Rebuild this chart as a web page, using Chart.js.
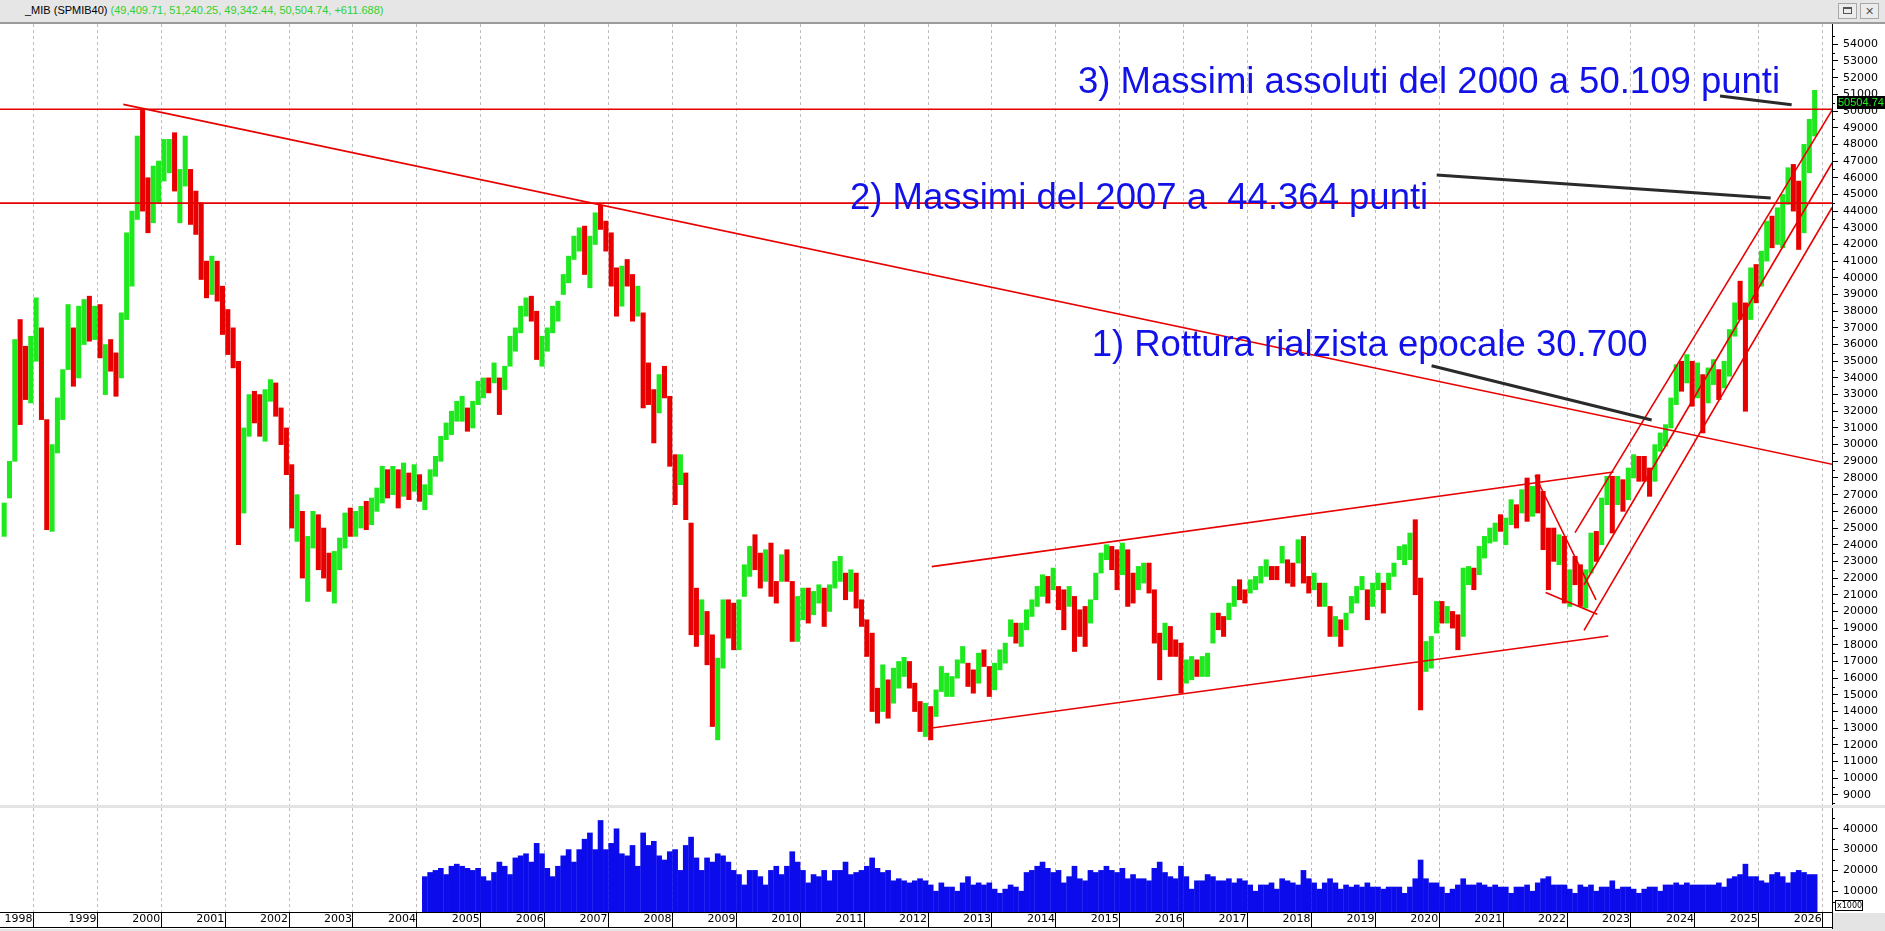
<!DOCTYPE html>
<html>
<head>
<meta charset="utf-8">
<script src="https://cdn.jsdelivr.net/npm/chart.js@4.4.1/dist/chart.umd.min.js"></script>
<style>
  body { margin: 0; width: 1885px; height: 931px; background: #e4e4e4; overflow: hidden; position: relative;
         font-family: "Liberation Sans", Arial, sans-serif; }
  #bar { position: absolute; left: 0; top: 0; width: 1885px; height: 22px; background: #e6e6e6; border-bottom: 2px solid #9c9c9c; }
  #title { position: absolute; left: 25px; top: 4px; font-size: 11px; color: #000; white-space: pre; }
  #title span { color: #2fd12f; }
  .btn { position: absolute; top: 3px; width: 17px; height: 14px; border: 1px solid #a8a8a8; background: #ececec; }
  .btn i { position: absolute; left: 4px; top: 3px; width: 7px; height: 4px; border: 1px solid #555; border-top-width: 2px; }
  .btn b { position: absolute; left: 0; top: 0; width: 17px; line-height: 14px; text-align: center; font-size: 11px; color: #555; font-weight: normal; }
  #priceWrap { position: absolute; left: 0; top: 24px; width: 1885px; height: 781px; background: #fff; }
  #volWrap { position: absolute; left: 0; top: 808px; width: 1885px; height: 121px; background: #fff; }
</style>
</head>
<body>
<div id="bar">
  <div id="title"></div>
  <div class="btn" style="left:1838px"><i></i></div>
  <div class="btn" style="left:1860px"><b>✕</b></div>
</div>
<div id="priceWrap"><canvas id="priceChart" width="1885" height="781"></canvas></div>
<div id="volWrap"><canvas id="volumeChart" width="1885" height="121"></canvas></div>
<script>
// --- DATA (monthly bars, Jan 1998 -> May 2026) ---
const firstYear = 1998;
const yearTicks = [1998, 1999, 2000, 2001, 2002, 2003, 2004, 2005, 2006, 2007, 2008, 2009, 2010, 2011,
  2012, 2013, 2014, 2015, 2016, 2017, 2018, 2019, 2020, 2021, 2022, 2023, 2024, 2025, 2026];
const priceTicks = [9000, 10000, 11000, 12000, 13000, 14000, 15000, 16000, 17000, 18000, 19000, 20000,
  21000, 22000, 23000, 24000, 25000, 26000, 27000, 28000, 29000, 30000, 31000, 32000, 33000, 34000,
  35000, 36000, 37000, 38000, 39000, 40000, 41000, 42000, 43000, 44000, 45000, 46000, 47000, 48000,
  49000, 50000, 51000, 52000, 53000, 54000];
const volumeTicks = [10000, 20000, 30000, 40000];
const volumeMinorTicks = [5000, 15000, 25000, 35000, 45000];

const lows = [
  24500, 26800, 29000, 31200, 32700, 32500, 35000, 31500, 24900, 24800, 29500, 31500, // 1998
  34500, 33500, 34000, 36000, 36200, 36300, 35200, 33000, 34400, 32900, 34000, 37500, // 1999
  39500, 43500, 44000, 42700, 43300, 44500, 45800, 46300, 45200, 43300, 45500, 43200, // 2000
  42600, 39900, 38800, 39000, 38600, 36600, 35400, 34600, 24000, 25900, 30500, 31300, // 2001
  30500, 30200, 32600, 31700, 30000, 28200, 25000, 24200, 22000, 20600, 23800, 22500, // 2002
  22000, 21200, 20500, 22500, 23800, 24500, 24500, 25000, 24900, 25200, 26000, 26500, // 2003
  26800, 27000, 26200, 26900, 26700, 27200, 26600, 26100, 27000, 28100, 29000, 30300, // 2004
  30600, 31400, 31400, 30800, 31000, 32400, 32800, 33100, 33700, 31800, 33300, 34700, // 2005
  35600, 36700, 37700, 37400, 35100, 34700, 35600, 36700, 37400, 39000, 39700, 41100, // 2006
  41600, 40200, 39400, 42000, 42900, 41600, 39500, 37700, 38300, 39500, 37400, 37700, // 2007
  32200, 32400, 30100, 31900, 32800, 28700, 26400, 27600, 25500, 18600, 17900, 18600, // 2008
  16800, 13100, 12300, 16600, 18400, 17700, 17700, 20900, 22100, 22500, 21400, 21800, // 2009
  20900, 20500, 21800, 21800, 18200, 18200, 19500, 19300, 19800, 20500, 19100, 20000, // 2010
  21400, 21800, 20700, 21200, 20200, 19100, 17300, 14000, 13300, 14000, 13600, 14500, // 2011
  15400, 16100, 15400, 14000, 12800, 12500, 12300, 13700, 15200, 14900, 14900, 16000, // 2012
  16900, 15500, 15100, 15700, 16700, 14900, 15300, 16500, 16900, 18500, 18100, 17900, // 2013
  18900, 19700, 20300, 20900, 20500, 21300, 20100, 18900, 20300, 17600, 18500, 17900, // 2014
  19300, 20700, 22300, 23100, 22500, 21300, 22200, 20300, 20500, 21300, 21700, 21100, // 2015
  18100, 15900, 17700, 17300, 17300, 15100, 15700, 15900, 16100, 16100, 16100, 18100, // 2016
  18900, 18500, 19500, 20300, 20700, 20500, 21100, 21300, 21700, 22100, 21900, 21900, // 2017
  22900, 21700, 21500, 22900, 21700, 21100, 21300, 20300, 20300, 18500, 18500, 17900, // 2018
  18900, 19900, 20500, 21300, 19500, 20300, 21300, 19900, 21300, 22100, 23100, 22800, // 2019
  23100, 21000, 14100, 16400, 16600, 18700, 19300, 19300, 19000, 17700, 18500, 21600, // 2020
  21300, 22200, 23200, 24100, 24200, 24800, 24000, 25200, 25000, 25900, 25400, 25700, // 2021
  25900, 23700, 21300, 23000, 22800, 20500, 20300, 21600, 20300, 20200, 22300, 23000, // 2022
  24000, 26400, 24700, 26400, 26000, 26700, 28000, 27800, 27800, 26900, 27800, 29600, // 2023
  29900, 31000, 32400, 33200, 33700, 32300, 32800, 30700, 32500, 33600, 32700, 33400, // 2024
  34100, 36500, 37500, 32000, 37500, 38500, 39500, 41000, 41800, 42000, 41800, 44400, // 2025
  44000, 41700, 42700, 46300, 48500                                                   // 2026
];
const highs = [
  26500, 29000, 36300, 37500, 35900, 36500, 38800, 37000, 31500, 30000, 32800, 34500, // 1998
  38400, 37000, 38300, 38700, 38900, 38300, 38400, 36000, 36300, 35500, 37900, 42700, // 1999
  44000, 48500, 50110, 46000, 46700, 47000, 48300, 48300, 48700, 46500, 48500, 46500, // 2000
  45200, 44500, 41000, 41300, 41000, 39500, 38100, 37000, 35000, 31000, 33000, 33200, // 2001
  33000, 33300, 33900, 33700, 32200, 31000, 28800, 27000, 26000, 24500, 26000, 25800, // 2002
  25000, 23500, 23600, 24400, 25900, 26200, 26000, 26300, 26600, 26800, 27400, 28700, // 2003
  28500, 28700, 28500, 28900, 28300, 28800, 28200, 27600, 28500, 29300, 30500, 31300, // 2004
  32000, 32600, 32900, 32200, 32600, 33800, 34000, 34000, 34900, 34000, 34700, 36500, // 2005
  37000, 38300, 38800, 38900, 38000, 36500, 37000, 38300, 38600, 40200, 41300, 42500, // 2006
  43000, 43100, 42500, 43900, 44360, 43400, 42700, 40600, 40700, 41100, 40200, 39500, // 2007
  37900, 34900, 33300, 34200, 34700, 32900, 29400, 29400, 28300, 25300, 21400, 20700, // 2008
  20000, 18600, 17200, 20700, 20700, 20500, 20700, 22800, 23900, 24600, 23500, 23700, // 2009
  24100, 21800, 23400, 23700, 21800, 20900, 21400, 21400, 21200, 21600, 21400, 21600, // 2010
  23000, 23300, 22300, 22500, 22300, 20700, 19500, 18700, 15400, 16800, 15900, 16600, // 2011
  17000, 17250, 17000, 15700, 14600, 14500, 14300, 15300, 16700, 16300, 16100, 17100, // 2012
  17900, 16900, 16500, 17500, 17700, 16700, 16900, 17700, 18100, 19500, 19300, 19300, // 2013
  20100, 20700, 21500, 22200, 22100, 22600, 21500, 21300, 21500, 20900, 20100, 20300, // 2014
  20700, 22300, 23500, 24000, 23900, 23700, 24100, 23700, 22300, 22700, 22900, 22900, // 2015
  21300, 18700, 19300, 19100, 18300, 18100, 17100, 17300, 17100, 17300, 17500, 19900, // 2016
  19900, 19700, 20500, 21500, 21900, 21300, 21900, 22100, 22700, 23100, 22700, 22700, // 2017
  23900, 23100, 22900, 24300, 24500, 22100, 22300, 21700, 21700, 20300, 19700, 19500, // 2018
  19900, 20900, 21500, 22100, 21300, 21700, 22300, 21700, 22300, 22900, 23900, 24000, // 2019
  24700, 25500, 22000, 18200, 18500, 20600, 20600, 20300, 20000, 19800, 22600, 22700, // 2020
  22600, 23900, 24500, 25000, 25300, 25800, 25600, 26700, 26400, 27300, 28000, 27500, // 2021
  28200, 27200, 25000, 25000, 24600, 24500, 22500, 23300, 22800, 22500, 24700, 24800, // 2022
  26800, 28100, 28100, 28100, 27900, 28600, 29400, 29300, 29300, 28600, 30000, 30700, // 2023
  31200, 32800, 34800, 35000, 35400, 35000, 34900, 34200, 34600, 35100, 34500, 35000, // 2024
  36900, 38500, 39800, 38500, 40600, 40800, 41600, 43400, 43700, 44200, 45000, 46600, // 2025
  46800, 45800, 48000, 49500, 51240                                                   // 2026
];
const closes = [
  26300, 28800, 35000, 33500, 33000, 36000, 36000, 32000, 26500, 29500, 32400, 34000, // 1998
  35500, 34500, 37500, 38000, 36800, 37500, 35500, 35700, 34800, 34200, 37500, 42500, // 1999
  43500, 48000, 46000, 45000, 45500, 46500, 46800, 48000, 45500, 46000, 46200, 45000, // 2000
  44500, 40500, 39500, 41000, 39300, 37000, 36000, 35000, 27000, 30500, 32500, 32000, // 2001
  31000, 33000, 33500, 32000, 31000, 28500, 26000, 26300, 22500, 24000, 25500, 23500, // 2002
  22500, 22000, 22800, 24000, 25500, 25000, 25600, 26000, 25200, 26600, 26800, 28300, // 2003
  27800, 28400, 27000, 28300, 27500, 28000, 27000, 27200, 28300, 29000, 30300, 31000, // 2004
  31700, 32300, 32500, 31200, 32400, 33500, 33800, 33600, 34800, 33000, 34600, 36300, // 2005
  36800, 38000, 38500, 38200, 35500, 36000, 36700, 38100, 38400, 40000, 40500, 42300, // 2006
  42800, 41500, 42300, 43700, 43500, 41800, 40500, 39500, 40400, 40000, 38000, 38500, // 2007
  33500, 33000, 31500, 33800, 33000, 29000, 28000, 29000, 26000, 20000, 19000, 19500, // 2008
  17500, 13500, 16000, 20000, 19500, 18500, 20500, 22500, 23500, 22800, 22500, 23300, // 2009
  21500, 21400, 23000, 22500, 19000, 19200, 21000, 19800, 21000, 21300, 19500, 20800, // 2010
  22000, 22500, 22000, 22300, 20600, 20200, 17800, 15200, 14000, 15500, 14800, 15100, // 2011
  16200, 16800, 15980, 14500, 13200, 14200, 14000, 15200, 15500, 15700, 15900, 16300, // 2012
  17300, 15900, 15400, 17200, 16800, 15200, 16400, 16500, 17700, 19200, 18600, 18900, // 2013
  19400, 20400, 21400, 21600, 21000, 21300, 20200, 20100, 20600, 19800, 19700, 19000, // 2014
  20500, 22200, 23200, 23300, 23100, 22100, 23900, 21500, 20900, 22300, 22400, 21400, // 2015
  19000, 17200, 18700, 18200, 17800, 16200, 16700, 16800, 16400, 17000, 17300, 19200, // 2016
  19000, 18900, 20400, 21000, 20900, 20600, 21700, 21900, 22500, 22800, 22300, 21900, // 2017
  23500, 22500, 22400, 24000, 21800, 21600, 22000, 20300, 20700, 19000, 19200, 18300, // 2018
  19700, 20700, 21300, 21900, 19800, 21500, 21600, 20800, 22100, 22600, 23400, 23500, // 2019
  23500, 21500, 16500, 17600, 18200, 19500, 19200, 19600, 19000, 18000, 22000, 22300, // 2020
  21600, 23000, 24400, 24600, 25200, 25100, 25300, 26600, 25700, 27200, 26200, 27300, // 2021
  27000, 25400, 24500, 24000, 24200, 21300, 22300, 21800, 20800, 22300, 24500, 23700, // 2022
  26500, 27700, 26500, 27300, 26800, 28200, 29400, 28400, 28000, 27700, 29700, 30350, // 2023
  31000, 32600, 34600, 33900, 34600, 33300, 34000, 33400, 33800, 34400, 33600, 34200, // 2024
  36500, 38300, 38000, 37000, 40100, 39800, 41200, 43000, 42800, 43600, 44500, 46300, // 2025
  45000, 43500, 47500, 49400, 50505                                                   // 2026
];

// volume (x1000), first bar Aug 2004
const volumeStartIndex = 79;
const volumes = [
  17000, 19000, 20000, 21000, 18000,                                                  // 2004
  22000, 23000, 22000, 21000, 20000, 21000, 17000, 15000, 19000, 24000, 22000, 18000, // 2005
  26000, 27000, 28000, 24000, 33000, 28000, 21000, 17000, 22000, 27000, 30000, 24000, // 2006
  30000, 35000, 38000, 30000, 44000, 30000, 33000, 40000, 28000, 27000, 32000, 22000, // 2007
  38000, 32000, 34000, 27000, 25000, 29000, 30000, 20000, 32000, 36000, 26000, 20000, // 2008
  26000, 24000, 28000, 27000, 24000, 20000, 18000, 13000, 20000, 20000, 17000, 13000, // 2009
  20000, 22000, 18000, 22000, 29000, 24000, 20000, 14000, 18000, 17000, 20000, 15000, // 2010
  20000, 20000, 24000, 18000, 19000, 20000, 22000, 26000, 21000, 19000, 20000, 15000, // 2011
  16000, 15000, 14000, 15000, 16000, 15000, 13000, 10000, 14000, 12000, 12000, 10000, // 2012
  14000, 17000, 13000, 14000, 13000, 14000, 11000, 9000, 11000, 13000, 12000, 10000,  // 2013
  19000, 20000, 22000, 24000, 21000, 19000, 20000, 14000, 17000, 22000, 16000, 15000, // 2014
  20000, 19000, 20000, 22000, 20000, 19000, 21000, 16000, 18000, 16000, 16000, 15000, // 2015
  21000, 24000, 19000, 17000, 16000, 22000, 17000, 11000, 15000, 15000, 18000, 17000, // 2016
  15000, 15000, 16000, 14000, 16000, 15000, 13000, 10000, 13000, 13000, 14000, 11000, // 2017
  16000, 15000, 14000, 13000, 20000, 16000, 14000, 11000, 14000, 16000, 14000, 11000, // 2018
  13000, 12000, 13000, 12000, 14000, 12000, 12000, 11000, 12000, 12000, 12000, 9000,  // 2019
  12000, 16000, 25000, 16000, 14000, 14000, 12000, 9000, 11000, 13000, 16000, 13000,  // 2020
  13000, 14000, 13000, 12000, 13000, 12000, 12000, 9000, 12000, 12000, 13000, 10000,  // 2021
  14000, 16000, 17000, 13000, 13000, 13000, 11000, 9000, 13000, 12000, 13000, 10000,  // 2022
  12000, 12000, 15000, 11000, 12000, 12000, 11000, 9000, 11000, 12000, 12000, 10000,  // 2023
  13000, 13000, 14000, 13000, 14000, 13000, 13000, 13000, 13000, 13000, 14000, 12000, // 2024
  16000, 17000, 18000, 23000, 17000, 17000, 15000, 14000, 18000, 19000, 17000, 14000, // 2025
  19000, 20000, 19000, 18000, 18000                                                   // 2026
];

// header quote: open, high, low, close, change
const quote = [49409.71, 51240.25, 49342.44, 50504.74];
const quoteChange = 611.688;

// drawn lines, [year, value] end points
const supportLines = [
  [[1997.97, 50109], [2026.65, 50109]],
  [[1997.97, 44480], [2026.65, 44480]],
  [[1999.906, 50400], [2026.65, 28820]],
  [[2012.53, 12995], [2023.145, 18530]],
  [[2012.557, 22685], [2023.226, 28359]],
  [[2021.998, 28150], [2022.954, 20690]],
  [[2022.165, 21130], [2022.973, 19830]],
  [[2022.625, 24720], [2026.65, 50069]],
  [[2022.766, 21599], [2026.65, 46900]],
  [[2022.766, 18870], [2026.65, 44230]]
];
const pointerLines = [
  [[2024.894, 50900], [2026.015, 50381]],
  [[2020.46, 46169], [2025.687, 44791]],
  [[2020.38, 34729], [2023.824, 31479]]
];
const notes = [
  { text: '3) Massimi assoluti del 2000 a 50.109 punti', x: 2014.847, y: 51104 },
  { text: '2) Massimi del 2007 a  44.364 punti', x: 2011.278, y: 44126 },
  { text: '1) Rottura rialzista epocale 30.700', x: 2015.06, y: 35313 }
];

// --- header ---
const fmt = (v, d) => v.toLocaleString('en-US', { minimumFractionDigits: d, maximumFractionDigits: d });
document.getElementById('title').innerHTML = '_MIB (SPMIB40) <span>(' +
  quote.map(v => fmt(v, 2)).join(', ') + ', +' + fmt(quoteChange, 3) + ')</span>';

// --- helpers ---
const xMin = 1997.9765, xMax = 2026.6465;
const UP = '#1ee81e', DOWN = '#e80000';
const FONT = '"Liberation Sans", Arial, sans-serif', AXIS_FONT = '"DejaVu Sans", sans-serif';
const monthX = i => firstYear + (i + 0.5) / 12;

const priceBars = lows.map((lo, i) => ({ x: monthX(i), y: [lo, highs[i]] }));
const barColors = closes.map((c, i) => c >= (i ? closes[i - 1] : lows[i]) ? UP : DOWN);
const volumeBars = volumes.map((v, i) => ({ x: monthX(volumeStartIndex + i), y: v }));

const lineSet = (pts, color, width) => ({
  type: 'line',
  data: pts.map(p => ({ x: p[0], y: p[1] })),
  borderColor: color, borderWidth: width, pointRadius: 0, tension: 0, fill: false
});

const fixWidth = s => { s.width = 53; s.paddingTop = 0; s.paddingBottom = 0; };
const yearAxis = (labels) => ({
  type: 'linear', min: xMin, max: xMax, offset: false,
  afterBuildTicks: s => { s.ticks = yearTicks.map(v => ({ value: v })); },
  afterFit: s => { s.height = labels ? 17 : 0; s.paddingLeft = 0; s.paddingRight = 0; },
  grid: { color: '#bdbdbd', drawTicks: labels, tickLength: 16, tickColor: '#000' },
  border: { display: labels, color: '#000', dash: [3, 3] },
  ticks: {
    display: labels, align: 'start', labelOffset: 3, padding: -15, autoSkip: false, maxRotation: 0,
    color: '#000', font: { family: AXIS_FONT, size: 11 }, callback: v => String(v)
  }
});
const valueAxis = (min, max, list) => ({
  type: 'linear', position: 'right', min, max,
  afterBuildTicks: s => { s.ticks = list.map(v => ({ value: v })); },
  afterFit: fixWidth,
  grid: { drawOnChartArea: false, tickLength: 6, tickColor: '#000', color: '#000' },
  border: { display: true, color: '#000' },
  ticks: { padding: 5, autoSkip: false, color: '#000', font: { family: AXIS_FONT, size: 11 }, callback: v => String(v) }
});

// --- PRICE CHART ---
const priceDecor = {
  id: 'priceDecor',
  afterDatasetsDraw(chart) {
    const { ctx, scales: { x, y } } = chart;
    ctx.save();
    ctx.fillStyle = '#1212e8';
    ctx.font = '36.5px ' + FONT;
    ctx.textBaseline = 'alphabetic';
    notes.forEach(n => ctx.fillText(n.text, x.getPixelForValue(n.x), y.getPixelForValue(n.y)));
    ctx.restore();
  },
  afterDraw(chart) {
    const { ctx, scales: { y } } = chart;
    ctx.save();
    ctx.strokeStyle = '#000';
    ctx.lineWidth = 1;
    priceTicks.concat([55000]).forEach(v => {
      const p = Math.round(y.getPixelForValue(v - 500)) + 0.5;
      ctx.beginPath(); ctx.moveTo(y.left, p); ctx.lineTo(y.left + 3, p); ctx.stroke();
    });
    const py = Math.round(y.getPixelForValue(quote[3]));
    ctx.fillStyle = '#000';
    ctx.fillRect(y.left + 5, py - 7, 48, 13);
    ctx.fillStyle = '#22ee22';
    ctx.font = '11px ' + FONT;
    ctx.textBaseline = 'middle';
    ctx.fillText(quote[3].toFixed(2), y.left + 6, py);
    ctx.restore();
  }
};

new Chart(document.getElementById('priceChart').getContext('2d'), {
  type: 'bar',
  data: {
    datasets: [
      ...pointerLines.map(l => lineSet(l, '#2a2a2a', 3)),
      ...supportLines.map(l => lineSet(l, '#e80000', 1.6)),
      { type: 'bar', data: priceBars, backgroundColor: barColors, barThickness: 4.4, borderWidth: 0 }
    ]
  },
  options: {
    responsive: false, animation: false,
    layout: { padding: 0 },
    plugins: { legend: { display: false }, tooltip: { enabled: false } },
    scales: { x: yearAxis(false), y: valueAxis(8396, 55217, priceTicks) }
  },
  plugins: [priceDecor]
});

// --- VOLUME CHART ---
const volumeDecor = {
  id: 'volumeDecor',
  afterDraw(chart) {
    const { ctx, chartArea: a, width, height, scales: { y } } = chart;
    ctx.save();
    ctx.strokeStyle = '#000';
    ctx.lineWidth = 1;
    volumeMinorTicks.forEach(v => {
      const p = Math.round(y.getPixelForValue(v)) + 0.5;
      ctx.beginPath(); ctx.moveTo(y.left, p); ctx.lineTo(y.left + 3, p); ctx.stroke();
    });
    ctx.fillStyle = '#e4e4e4';
    ctx.fillRect(a.right + 1, a.bottom + 1, width - a.right, height - a.bottom);
    ctx.beginPath();
    ctx.moveTo(a.right + 0.5, a.bottom); ctx.lineTo(a.right + 0.5, height);
    ctx.moveTo(0, height - 1.5); ctx.lineTo(a.right, height - 1.5);
    ctx.stroke();
    ctx.fillStyle = '#fff';
    ctx.fillRect(a.right + 3, a.bottom - 12, 28, 11);
    ctx.strokeRect(a.right + 3.5, a.bottom - 11.5, 27, 10);
    ctx.fillStyle = '#000';
    ctx.font = '8px ' + AXIS_FONT;
    ctx.textBaseline = 'middle';
    ctx.fillText('x1000', a.right + 5, a.bottom - 6);
    ctx.restore();
  }
};

new Chart(document.getElementById('volumeChart').getContext('2d'), {
  type: 'bar',
  data: {
    datasets: [{ data: volumeBars, backgroundColor: '#0b0bec', barThickness: 5, borderWidth: 0 }]
  },
  options: {
    responsive: false, animation: false,
    layout: { padding: 0 },
    plugins: { legend: { display: false }, tooltip: { enabled: false } },
    scales: { x: yearAxis(true), y: valueAxis(0, 50000, volumeTicks) }
  },
  plugins: [volumeDecor]
});
</script>
</body>
</html>
